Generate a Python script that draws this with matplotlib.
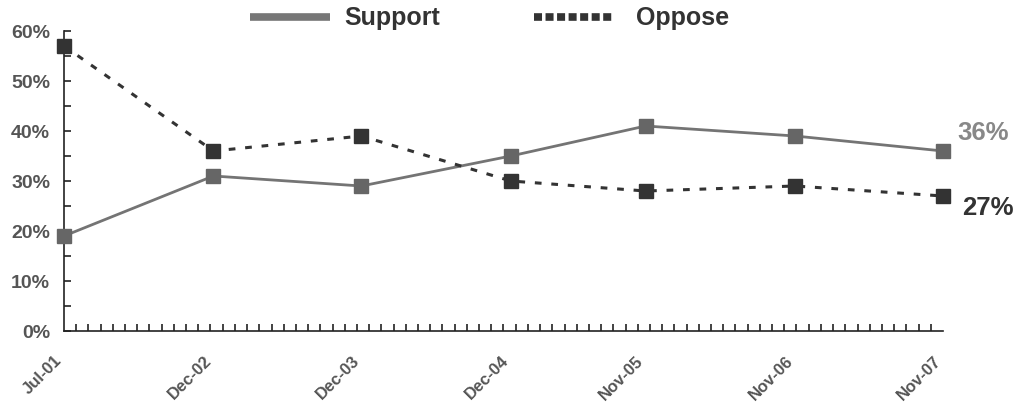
import matplotlib
matplotlib.use("Agg")
import matplotlib.pyplot as plt
import matplotlib.transforms as mtransforms
from matplotlib.lines import Line2D
from matplotlib.ticker import MultipleLocator, FuncFormatter

plt.rcParams['font.family'] = ['Liberation Sans', 'DejaVu Sans']
plt.rcParams['font.weight'] = 'bold'

dates = ['Jul-01', 'Dec-02', 'Dec-03', 'Dec-04', 'Nov-05', 'Nov-06', 'Nov-07']
x_pos = [0, 1.02, 2.03, 3.05, 3.97, 4.99, 6]
support = [19, 31, 29, 35, 41, 39, 36]
oppose = [57, 36, 39, 30, 28, 29, 27]

fig = plt.figure(figsize=(10.17, 4.07), dpi=100)
ax = fig.add_axes([64/1017, 1 - 331/407, 879/1017, 300/407])

ax.plot(x_pos, support, color='#747474', lw=2.0, marker='s', ms=9.5,
        mfc='#666666', mec='#666666', zorder=3, clip_on=False)
ax.plot(x_pos, oppose, color='#333333', lw=2.2, ls=(0, (2.2, 3.2)), marker='s', ms=9.5,
        mfc='#333333', mec='#333333', zorder=3, clip_on=False)

ax.set_xlim(0, 6)
ax.set_ylim(0, 60)
ax.spines['top'].set_visible(False)
ax.spines['right'].set_visible(False)
for s in ['left', 'bottom']:
    ax.spines[s].set_linewidth(1.2)
    ax.spines[s].set_color('#222222')

ax.yaxis.set_major_locator(MultipleLocator(10))
ax.yaxis.set_minor_locator(MultipleLocator(5))
ax.yaxis.set_major_formatter(FuncFormatter(lambda v, p: f'{v:.0f}%'))
ax.tick_params(axis='y', which='both', direction='in', length=5, width=1.2,
               color='#222222', pad=10, labelsize=14, labelcolor='#555555')

ax.set_xticks(x_pos)
ax.set_xticklabels(dates, rotation=45, ha='right', rotation_mode='anchor')
ax.xaxis.set_minor_locator(MultipleLocator(1/12))
ax.tick_params(axis='x', which='major', length=0, pad=16, labelsize=12, labelcolor='#555555')
ax.tick_params(axis='x', which='minor', direction='in', length=5, width=1.2, color='#222222')
shift = mtransforms.ScaledTranslation(-10/100, 0, fig.dpi_scale_trans)
for lab in ax.get_xticklabels():
    lab.set_transform(lab.get_transform() + shift)
for lab in ax.get_yticklabels() + ax.get_xticklabels():
    lab.set_fontweight('bold')

ax.annotate('36%', (x_pos[-1], support[-1]), xytext=(10, 13.3), textcoords='offset points',
            color='#888888', fontsize=18.5, fontweight='bold', va='center', ha='left',
            annotation_clip=False)
ax.annotate('27%', (x_pos[-1], oppose[-1]), xytext=(13.7, -8.3), textcoords='offset points',
            color='#333333', fontsize=18.5, fontweight='bold', va='center', ha='left',
            annotation_clip=False)

handles = [Line2D([], [], color='#777777', lw=5.5, solid_capstyle='butt'),
           Line2D([], [], color='#333333', lw=5.5, ls=(0, (1.05, 0.46)))]
fig.legend(handles, ['Support', ' Oppose'], loc='center', bbox_to_anchor=(0.4815, 0.955),
           ncol=2, frameon=False, handlelength=3.2, handletextpad=0.6,
           columnspacing=3.76, labelcolor='#333333', prop={'weight': 'bold', 'size': 18})

fig.savefig('out.png', dpi=100)
